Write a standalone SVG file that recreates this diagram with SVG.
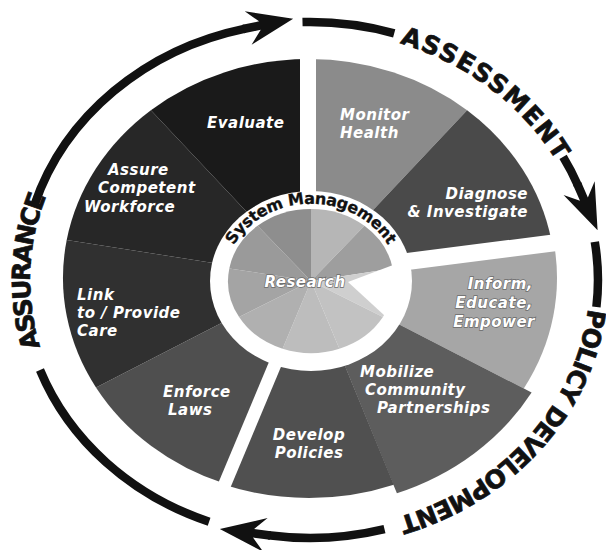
<svg xmlns="http://www.w3.org/2000/svg" xmlns:xlink="http://www.w3.org/1999/xlink" width="606" height="550" viewBox="0 0 606 550">
<style>
.lbl{font-family:"DejaVu Sans",sans-serif;font-weight:bold;font-style:italic;font-size:15px;letter-spacing:0.5px;fill:#ffffff}
.halo{stroke:#6a6a6a;stroke-width:1.4px;paint-order:stroke}
.phase{font-family:"DejaVu Sans",sans-serif;font-weight:bold;font-size:25px;fill:#111111;stroke:#111111;stroke-width:0.7px}
.sys{font-family:"DejaVu Sans",sans-serif;font-weight:bold;font-size:16px;fill:#111111;stroke:#111111;stroke-width:0.3px}
.ring{fill:none;stroke:#111111;stroke-width:8.5}
.gap{stroke:#ffffff;fill:none}
</style>
<defs>
<marker id="ah" markerUnits="userSpaceOnUse" viewBox="-10 -20 64 40" markerWidth="64" markerHeight="40" refX="0" refY="0" orient="auto" overflow="visible">
<path d="M-2,-4.3 L15,-4.3 L3,-17 L49,0 L3,17 L15,4.3 L-2,4.3 Z" fill="#111111"/>
</marker>
<path id="tpAssure" d="M62.8,397.4 A280,250 0 0 1 72.6,147.5"/>
<path id="tpAssess" d="M361,34.2 A280,250 0 0 1 573.9,196.5"/>
<path id="tpPolicy" d="M589.3,297.4 A280,250 0 0 1 387.2,520.3"/>
<path id="tpSys" d="M225.3,267.6 A87,77 0 0 1 396.7,267.6"/>
</defs>
<rect width="606" height="550" fill="#ffffff"/>

<g id="monitor">
<path d="M309,278 L309,59 A246,219 0 0 1 467.1,110.2 Z" fill="#8b8b8b"/>
<text class="lbl" x="340" y="120">Monitor</text>
<text class="lbl" x="340" y="138">Health</text>
</g>
<g id="diagnose">
<path d="M309,278 L467.1,110.2 A246,219 0 0 1 551.3,240 Z" fill="#4a4a4a"/>
<text class="lbl" x="528" y="199" text-anchor="end">Diagnose</text>
<text class="lbl" x="528" y="217" text-anchor="end">&amp; Investigate</text>
</g>
<g id="inform">
<path d="M309,278 L553.2,239.6 A248,221 0 0 1 523.8,388.5 Z" fill="#a6a6a6"/>
<text class="lbl halo" x="533" y="289" text-anchor="end">Inform,</text>
<text class="lbl halo" x="533" y="308" text-anchor="end">Educate,</text>
<text class="lbl halo" x="535" y="327" text-anchor="end">Empower</text>
</g>
<g id="mobilize">
<path d="M309,278 L531.6,392.5 A257,229 0 0 1 396.9,493.2 Z" fill="#5d5d5d"/>
<text class="lbl" x="360" y="377">Mobilize</text>
<text class="lbl" x="365" y="395">Community</text>
<text class="lbl" x="377" y="413">Partnerships</text>
</g>
<g id="develop">
<path d="M309,278 L393.8,484.7 A248,220 0 0 1 224.2,484.7 Z" fill="#505050"/>
<text class="lbl" x="309" y="440" text-anchor="middle">Develop</text>
<text class="lbl" x="309" y="458" text-anchor="middle">Policies</text>
</g>
<g id="enforce">
<path d="M309,278 L224.9,483.8 A246,219 0 0 1 96,387.5 Z" fill="#4f4f4f"/>
<text class="lbl" x="163" y="397">Enforce</text>
<text class="lbl" x="168" y="415">Laws</text>
</g>
<g id="link">
<path d="M309,278 L96,387.5 A246,219 0 0 1 66.7,240 Z" fill="#303030"/>
<text class="lbl" x="77" y="300">Link</text>
<text class="lbl" x="77" y="318">to / Provide</text>
<text class="lbl" x="77" y="336">Care</text>
</g>
<g id="assure">
<path d="M309,278 L66.7,240 A246,219 0 0 1 150.9,110.2 Z" fill="#272727"/>
<text class="lbl" x="108" y="175">Assure</text>
<text class="lbl" x="98" y="193">Competent</text>
<text class="lbl" x="84" y="212">Workforce</text>
</g>
<g id="evaluate">
<path d="M309,278 L150.9,110.2 A246,219 0 0 1 309,59 Z" fill="#1a1a1a"/>
<text class="lbl" x="207" y="128">Evaluate</text>
</g>

<g id="gaps">
<path class="gap" d="M308,278 L308,40" stroke-width="16"/>
<path class="gap" d="M309,274 L600,237" stroke-width="17"/>
<path class="gap" d="M312,276 L214,510" stroke-width="13"/>
</g>

<g id="research">
<ellipse cx="311" cy="281" rx="101" ry="90" fill="#ffffff"/>
<path d="M311,281 L311,209 A83,72 0 0 1 364.4,225.8 Z" fill="#b6b6b6"/>
<path d="M311,281 L364.4,225.8 A83,72 0 0 1 392.7,268.5 Z" fill="#9e9e9e"/>
<path d="M311,281 L392.7,268.5 A83,72 0 0 1 382.9,317 Z" fill="#cfcfcf"/>
<path d="M311,281 L382.9,317 A83,72 0 0 1 339.4,348.7 Z" fill="#c2c2c2"/>
<path d="M311,281 L339.4,348.7 A83,72 0 0 1 282.6,348.7 Z" fill="#bdbdbd"/>
<path d="M311,281 L282.6,348.7 A83,72 0 0 1 239.1,317 Z" fill="#b0b0b0"/>
<path d="M311,281 L239.1,317 A83,72 0 0 1 229.3,268.5 Z" fill="#a4a4a4"/>
<path d="M311,281 L229.3,268.5 A83,72 0 0 1 257.6,225.8 Z" fill="#9a9a9a"/>
<path d="M311,281 L257.6,225.8 A83,72 0 0 1 311,209 Z" fill="#8e8e8e"/>
<polygon points="348,282 409,259 397,327" fill="#ffffff"/>
<text class="lbl halo" x="305" y="287" text-anchor="middle" font-size="16">Research</text>
<text class="sys"><textPath xlink:href="#tpSys" href="#tpSys" startOffset="50%" text-anchor="middle" textLength="183" lengthAdjust="spacing">System Management</textPath></text>
</g>

<g id="connectors">
<path class="ring" d="M34.6,204.6 A288,258 0 0 1 245.2,28.6" marker-end="url(#ah)"/>
<path class="ring" d="M302.5,22.1 A288,258 0 0 1 394.2,33.3"/>
<path class="ring" d="M563.1,156.9 A288,258 0 0 1 577.9,185.4" marker-end="url(#ah)"/>
<path class="ring" d="M594.8,241.9 A288,258 0 0 1 596.4,307"/>
<path class="ring" d="M384.5,529.2 A288,258 0 0 1 268.4,535.3" marker-end="url(#ah)"/>
<path class="ring" d="M209.1,521.7 A288,258 0 0 1 40,370"/>
</g>

<g id="phase-assessment">
<text class="phase"><textPath xlink:href="#tpAssess" href="#tpAssess" startOffset="50%" text-anchor="middle" textLength="200" lengthAdjust="spacing">ASSESSMENT</textPath></text>
</g>
<g id="phase-policy">
<text class="phase"><textPath xlink:href="#tpPolicy" href="#tpPolicy" startOffset="50%" text-anchor="middle" textLength="298" lengthAdjust="spacing">POLICY DEVELOPMENT</textPath></text>
</g>
<g id="phase-assurance">
<text class="phase"><textPath xlink:href="#tpAssure" href="#tpAssure" startOffset="50%" text-anchor="middle" textLength="154" lengthAdjust="spacing">ASSURANCE</textPath></text>
</g>
</svg>
